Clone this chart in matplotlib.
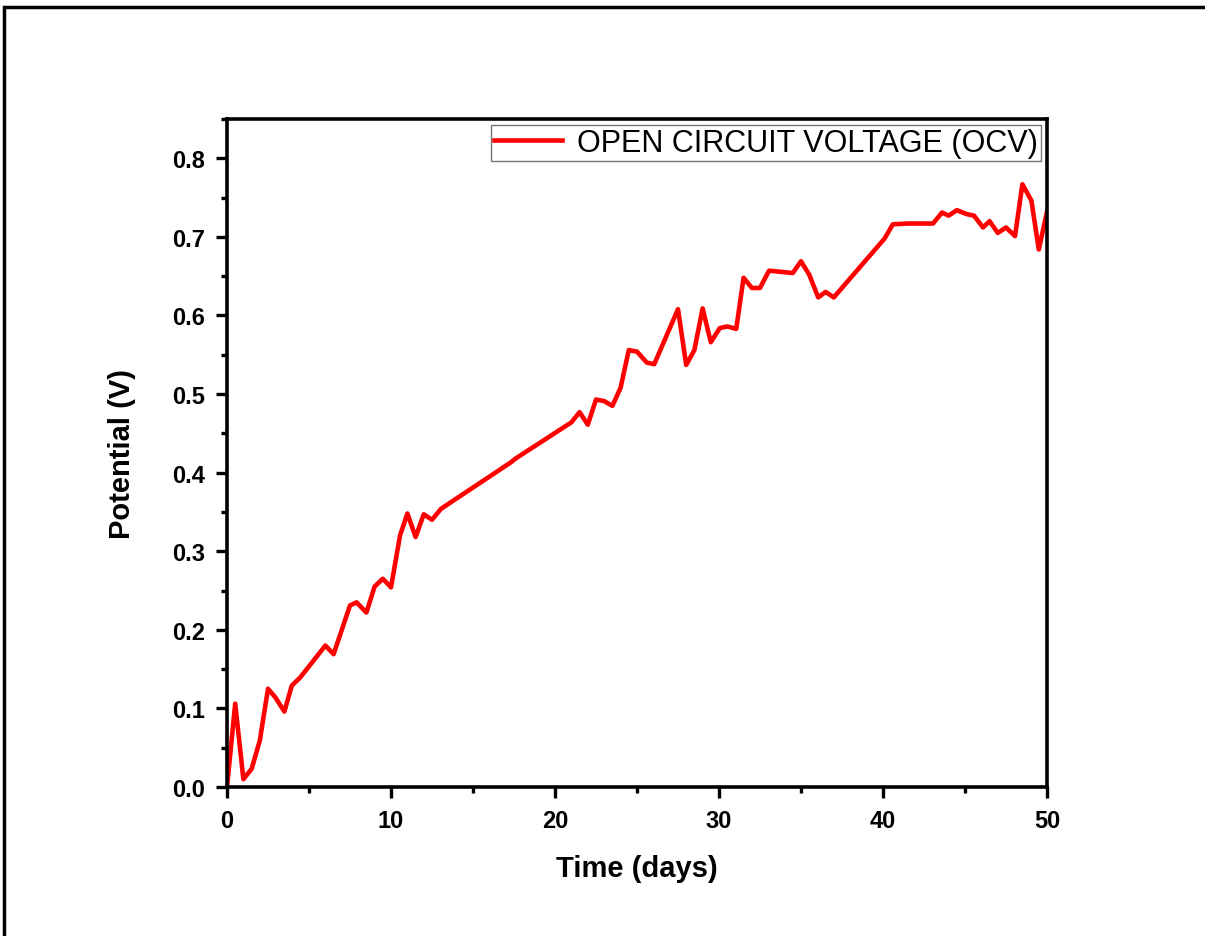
import matplotlib
matplotlib.use('Agg')
import matplotlib.pyplot as plt
from matplotlib.patches import Rectangle
from matplotlib.ticker import MultipleLocator

# values
days = [0, 0.5, 1.0, 1.5, 2.0, 2.5, 2.95, 3.5, 3.95, 4.45, 6.0, 6.5, 7.5, 7.9, 8.5,
        9.0, 9.5, 10.0, 10.55, 11.0, 11.5, 12.0, 12.5, 13.05, 17.3, 17.6, 21.0,
        21.5, 22.0, 22.5, 23.0, 23.5, 24.0, 24.5, 25.0, 25.6, 26.05, 27.5, 28.0,
        28.5, 29.0, 29.5, 30.05, 30.5, 31.05, 31.5, 32.0, 32.5, 33.05, 34.5, 35.0,
        35.5, 36.05, 36.5, 37.0, 40.1, 40.6, 41.5, 43.05, 43.6, 44.0, 44.5, 45.1,
        45.55, 46.1, 46.5, 47.0, 47.5, 48.05, 48.5, 49.05, 49.5, 50.0]
ocv = [0.0, 0.106, 0.010, 0.023, 0.059, 0.125, 0.114, 0.096, 0.129, 0.139, 0.180,
       0.169, 0.231, 0.235, 0.222, 0.255, 0.265, 0.254, 0.320, 0.348, 0.318, 0.347,
       0.340, 0.354, 0.413, 0.418, 0.464, 0.477, 0.461, 0.493, 0.491, 0.485, 0.508,
       0.556, 0.554, 0.540, 0.538, 0.608, 0.537, 0.556, 0.609, 0.566, 0.584, 0.586,
       0.583, 0.648, 0.635, 0.635, 0.657, 0.654, 0.669, 0.652, 0.623, 0.630, 0.623,
       0.698, 0.716, 0.717, 0.717, 0.731, 0.727, 0.734, 0.729, 0.727, 0.712, 0.720,
       0.705, 0.712, 0.701, 0.767, 0.746, 0.684, 0.732]
yticks = [0.0, 0.1, 0.2, 0.3, 0.4, 0.5, 0.6, 0.7, 0.8]
ytick_labels = ['0.0', '0.1', '0.2', '0.3', '0.4', '0.5', '0.6', '0.7', '0.8']

plt.rcParams['font.family'] = ['Liberation Sans', 'DejaVu Sans']

fig = plt.figure(figsize=(12.05, 9.37), dpi=100)
# outer frame, cut off at right and bottom like the original
fig.patches.append(Rectangle((4 / 1205, -0.05), 1.1, 1.05 - 8 / 937,
                             transform=fig.transFigure, fill=False,
                             edgecolor='black', linewidth=2.5, zorder=0))

ax = fig.add_axes([227 / 1205, 1 - 788 / 937, 820 / 1205, 668 / 937])
ax.plot(days, ocv, color='red', linewidth=3.3, label='OPEN CIRCUIT VOLTAGE (OCV)')

ax.set_xlim(0, 50)
ax.set_ylim(0, 0.85)
ax.xaxis.set_major_locator(MultipleLocator(10))
ax.xaxis.set_minor_locator(MultipleLocator(5))
ax.set_yticks(yticks)
ax.set_yticklabels(ytick_labels)
ax.yaxis.set_minor_locator(MultipleLocator(0.05))

ax.tick_params(which='major', direction='out', length=8, width=2.4,
               labelsize=17, pad=8)
ax.tick_params(which='minor', direction='out', length=4, width=2.4)
for lbl in ax.get_xticklabels() + ax.get_yticklabels():
    lbl.set_fontweight('bold')
for s in ax.spines.values():
    s.set_linewidth(2.6)

ax.set_xlabel('Time (days)', fontsize=21, fontweight='bold', labelpad=16)
ax.set_ylabel('Potential (V)', fontsize=21, fontweight='bold', labelpad=26)

leg = ax.legend(loc='upper right', fontsize=22, frameon=True, fancybox=False,
                borderaxespad=0.2, handlelength=2.2, borderpad=0.1,
                handletextpad=0.5)
leg.get_frame().set_edgecolor('#555555')
leg.get_frame().set_linewidth(1.0)

fig.savefig('out.png', dpi=100)
